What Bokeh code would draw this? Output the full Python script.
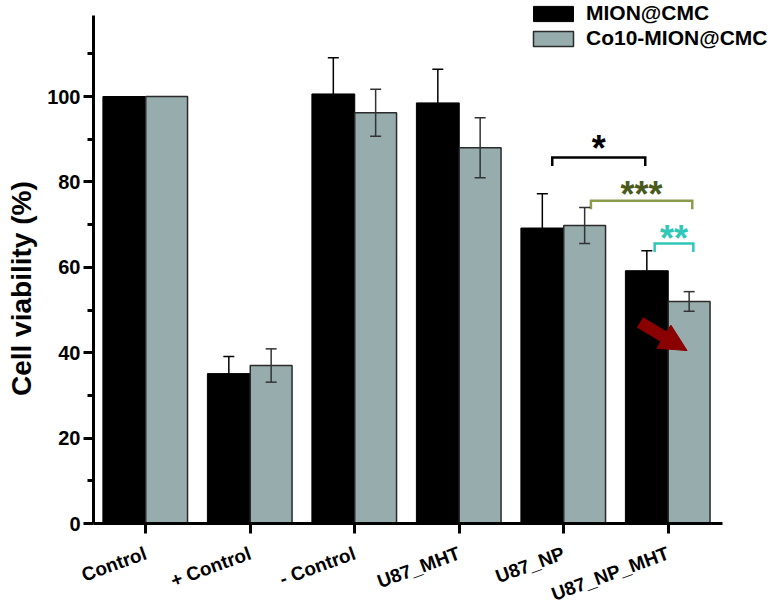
import math
from bokeh.plotting import figure
from bokeh.models import (ColumnDataSource, FixedTicker, Whisker, TeeHead, Legend,
                          LegendItem, Arrow, NormalHead, Range1d, Label)
from bokeh.core.properties import value
from bokeh.embed import file_html
from bokeh.resources import INLINE

# ---------------- data ----------------
categories = ["Control", "+ Control", "- Control", "U87_MHT", "U87_NP", "U87_NP_MHT"]
mion_cmc = [100.0, 35.1, 100.6, 98.5, 69.2, 59.2]
mion_cmc_err = [0.0, 4.0, 8.5, 7.9, 8.0, 4.7]
co10_mion_cmc = [100.0, 37.0, 96.2, 88.0, 69.8, 52.0]
co10_mion_cmc_err = [0.0, 3.9, 5.5, 7.0, 4.2, 2.3]

y_ticks = [0, 20, 40, 60, 80, 100]
y_minor_ticks = [10, 30, 50, 70, 90, 110]
y_title = "Cell viability (%)"

# significance brackets (category units / percent)
br_x0 = [3.89, 4.26, 4.87]
br_x1 = [4.78, 5.23, 5.24]
br_y = [85.7, 75.6, 65.6]
br_drop = [2.0, 2.0, 2.0]
br_labels = ["*", "***", "**"]
br_label_y = [89.8, 79.0, 68.6]
br_line_colors = ["#000000", "#8a9b4e", "#2fc7b7"]
br_text_colors = ["#000000", "#4a5a1c", "#2fc7b7"]

# red arrow (category units / percent)
arrow_start = (4.73, 47.1)
arrow_end = (5.18, 40.5)

BLACK = "#000000"
GREY = "#97acac"
FONT = "Liberation Sans"

idx = list(range(len(categories)))
x_black = [i - 0.205 for i in idx]
x_grey = [i + 0.2 for i in idx]

W, H = 782, 606
AX_X, AX_Y = 93, 523          # axis origin inside the figure (px)
PX_X, PX_Y = 104.5, 4.27      # px per category / per percent
x_start = -0.5 - AX_X / PX_X
x_end = -0.5 + (W - AX_X) / PX_X
y_start = -(H - AX_Y) / PX_Y
y_end = AX_Y / PX_Y

p = figure(width=W, height=H, x_range=Range1d(x_start, x_end), y_range=Range1d(y_start, y_end),
           output_backend="svg", toolbar_location=None,
           min_border_left=0, min_border_right=0, min_border_top=0, min_border_bottom=0)
p.xgrid.visible = False
p.ygrid.visible = False
p.outline_line_color = None
p.background_fill_color = "white"
p.border_fill_color = "white"

src_b = ColumnDataSource(dict(x=x_black, top=mion_cmc))
src_g = ColumnDataSource(dict(x=x_grey, top=co10_mion_cmc))
rb = p.vbar(x="x", top="top", width=0.41, source=src_b, fill_color=BLACK,
            line_color=BLACK, line_width=1)
rg = p.vbar(x="x", top="top", width=0.40, source=src_g, fill_color=GREY,
            line_color="#2a2a2a", line_width=1.5)

# error bars
def whisker(xs, ys, es, color):
    keep = [k for k in range(len(xs)) if es[k] > 0]
    s = ColumnDataSource(dict(x=[xs[k] for k in keep],
                              upper=[ys[k] + es[k] for k in keep],
                              lower=[ys[k] - es[k] for k in keep]))
    w = Whisker(base="x", upper="upper", lower="lower", source=s,
                line_color=color, line_width=1.5, level="overlay",
                upper_head=TeeHead(size=11, line_color=color, line_width=1.5),
                lower_head=TeeHead(size=11, line_color=color, line_width=1.5))
    p.add_layout(w)

whisker(x_black, mion_cmc, mion_cmc_err, "#000000")
whisker(x_grey, co10_mion_cmc, co10_mion_cmc_err, "#333333")

# brackets
xs = [[a, a, b, b] for a, b in zip(br_x0, br_x1)]
ys = [[y - d, y, y, y - d] for y, d in zip(br_y, br_drop)]
p.multi_line(xs=xs, ys=ys, line_color=br_line_colors, line_width=2.5, line_join="miter")
centers = [(a + b) / 2 for a, b in zip(br_x0, br_x1)]
p.text(x=centers, y=br_label_y, text=br_labels, text_color=br_text_colors,
       text_font=value(FONT), text_font_style="bold", text_font_size="36px",
       text_align="center", text_baseline="alphabetic", y_offset=8)

# red arrow
p.add_layout(Arrow(x_start=arrow_start[0], y_start=arrow_start[1],
                   x_end=arrow_end[0], y_end=arrow_end[1],
                   line_color="#8b0000", line_width=12,
                   end=NormalHead(size=27, fill_color="#8b0000", line_color="#8b0000")))

# axes (fixed at the data origin, so they take no panel space)
ya = p.yaxis[0]
ya.fixed_location = -0.5
ya.bounds = (0, 119)
ya.ticker = FixedTicker(ticks=y_ticks, minor_ticks=y_minor_ticks)
ya.axis_line_width = 3
ya.major_tick_line_width = 3
ya.minor_tick_line_width = 3
ya.major_tick_out = 10
ya.major_tick_in = 0
ya.minor_tick_out = 6
ya.minor_tick_in = 0
ya.major_label_text_font = FONT
ya.major_label_text_font_style = "bold"
ya.major_label_text_font_size = "20px"
ya.major_label_text_color = "black"
ya.major_label_standoff = 3

# y-axis title, placed as in the reference (a little below the axis centre)
p.add_layout(Label(x=x_start + 21 / PX_X, y=55.0, text=y_title, angle=math.pi / 2,
                   text_font=FONT, text_font_style="bold", text_font_size="28px",
                   text_color="black", text_align="center", text_baseline="middle"))

xa = p.xaxis[0]
xa.fixed_location = 0
xa.bounds = (-0.5, 5.52)
xa.ticker = FixedTicker(ticks=idx, minor_ticks=[])
xa.major_label_overrides = {i: c for i, c in zip(idx, categories)}
xa.major_label_orientation = 0.35
xa.axis_line_width = 3
xa.major_tick_line_width = 3
xa.major_tick_out = 10
xa.major_tick_in = 0
xa.minor_tick_out = 0
xa.major_label_text_font = FONT
xa.major_label_text_font_style = "bold"
xa.major_label_text_font_size = "19px"
xa.major_label_text_color = "black"
xa.major_label_standoff = 19

legend = Legend(items=[LegendItem(label="MION@CMC", renderers=[rb]),
                       LegendItem(label="Co10-MION@CMC", renderers=[rg])],
                location=(528, 556), orientation="vertical",
                glyph_width=50, glyph_height=19, label_height=21, label_standoff=8,
                spacing=1, padding=0, margin=0, border_line_color=None,
                background_fill_alpha=0,
                label_text_font=FONT, label_text_font_style="bold",
                label_text_font_size="21px", label_text_color="black")
p.add_layout(legend)

open("out.html", "w").write(file_html(p, INLINE))
